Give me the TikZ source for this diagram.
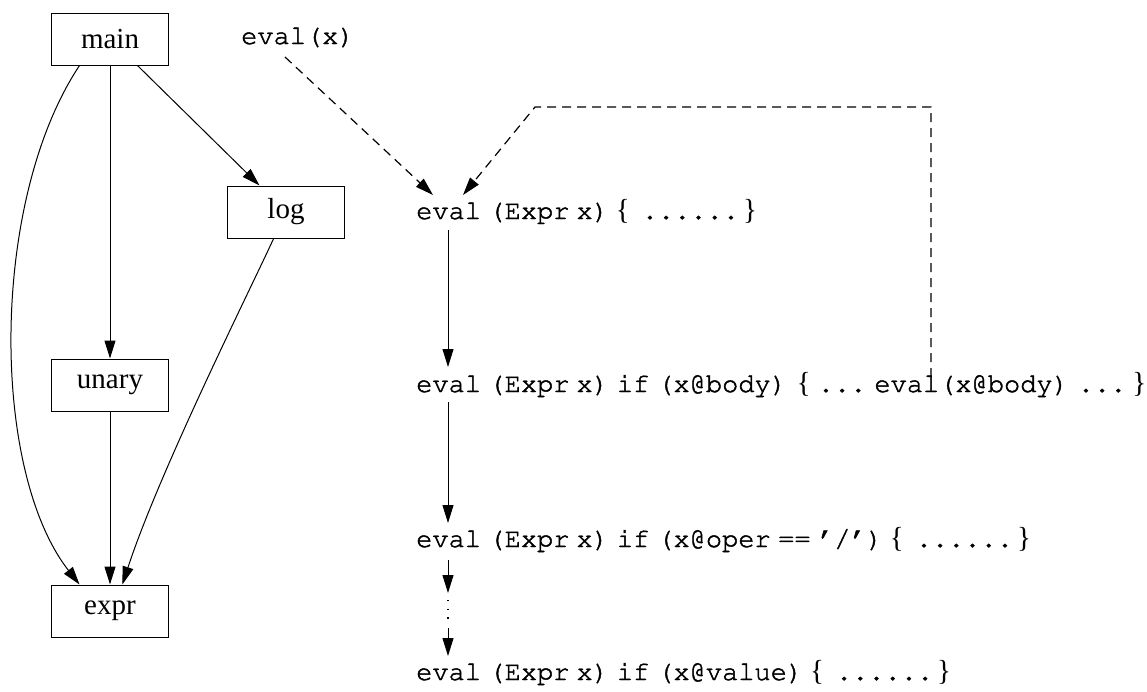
\documentclass[tikz,border=0pt]{standalone}
\usepackage[T1,TU]{fontenc}
\usepackage{fontspec}
\setmainfont{Liberation Serif}
\usetikzlibrary{arrows.meta,calc}
\newcommand\ct[1]{{\special{pdf:code 2 Tr 0.45 w}\fontencoding{T1}\fontfamily{pcr}\fontsize{27}{32}\selectfont #1\special{pdf:code 0 Tr}}}
\newcommand\sk[1]{\hspace*{#1pt}}
\begin{document}
\begin{tikzpicture}[x=1pt,y=-1pt,
  box/.style={draw,line width=1pt,minimum width=117pt,minimum height=52pt,inner sep=0pt,font=\fontsize{29}{34}\selectfont},
  code/.style={anchor=base west,inner sep=0pt,font=\fontsize{29}{34}\selectfont},
  arr/.style={line width=1pt,-{Triangle[length=18pt,width=11pt]}},
  dsh/.style={arr,line width=1.2pt,dash pattern=on 9pt off 6pt}]
\useasboundingbox (0,0) rectangle (1147,691);
% left graph
\node[box] (main)  at (110,39)  {main};
\node[box] (log)   at (286,212) {log};
\node[box] (unary) at (110,385) {unary};
\node[box] (expr)  at (110,611) {expr};
\draw[arr] (main.-44) -- (log.135);
\draw[arr] (main.south) -- (unary.north);
\draw[arr] (unary.south) -- (expr.north);
\draw[arr] (main.221) .. controls (-10,200) and (-10,470) .. (expr.139);
\draw[arr] (log.245) .. controls (250,290) and (160,470) .. (expr.65);
% right side
\node[code] (ex) at (241,44) {\ct{eval(x)}};
\node[code] (r1) at (416,219) {\ct{eval}\sk{7.5}\ct{(Expr}\sk{7}\ct{x)}\sk{7}\{\sk{12}\ct{......}\sk{4}\}};
\node[code] (r2) at (416,392) {\ct{eval}\sk{7.5}\ct{(Expr}\sk{7}\ct{x)}\sk{8}\ct{if}\sk{8}\ct{(x@body)}\sk{10}\{\sk{7}\ct{...}\sk{8}\ct{eval(x@body)}\sk{9}\ct{...}\sk{6}\}};
\node[code] (r3) at (416,547) {\ct{eval}\sk{7.5}\ct{(Expr}\sk{7}\ct{x)}\sk{8}\ct{if}\sk{8}\ct{(x@oper}\sk{7.5}\ct{==}\sk{7.5}\ct{'/')}\sk{7}\{\sk{12}\ct{......}\sk{4}\}};
\node[code] (r4) at (416,680) {\ct{eval}\sk{7.5}\ct{(Expr}\sk{7}\ct{x)}\sk{8}\ct{if}\sk{8}\ct{(x@value)}\sk{7}\{\sk{12}\ct{......}\sk{4}\}};
% connector ends
\coordinate (v1a) at ($(r1.base west)+(32,11)$);
\coordinate (v1b) at ($(r2.base west)+(32,-25)$);
\coordinate (v2a) at ($(r2.base west)+(32,10)$);
\coordinate (v2b) at ($(r3.base west)+(32,-24)$);
\coordinate (v3a) at ($(r3.base west)+(32,13)$);
\coordinate (v3b) at ($(r3.base west)+(32,46)$);
\coordinate (d1)  at ($(r3.base west)+(32,53)$);
\coordinate (d2)  at ($(r3.base west)+(32,77)$);
\coordinate (v4a) at ($(r4.base west)+(32,-52)$);
\coordinate (v4b) at ($(r4.base west)+(32,-24)$);
\draw[arr] (v1a) -- (v1b);
\draw[arr] (v2a) -- (v2b);
\draw[arr] (v3a) -- (v3b);
\draw[line width=1.2pt,dash pattern=on 1.2pt off 7.5pt] (d1) -- (d2);
\draw[arr] (v4a) -- (v4b);
% dashed calls
\coordinate (exs) at ($(ex.base west)+(44,13)$);
\coordinate (t1)  at ($(r1.base west)+(17,-24)$);
\coordinate (t2)  at ($(r1.base west)+(47,-24)$);
\coordinate (ls)  at ($(r2.base west)+(515,-15)$);
\coordinate (c1)  at (931,107);
\coordinate (c2)  at (535,107);
\draw[dsh] (exs) -- (t1);
\draw[dsh] (ls) -- (c1) -- (c2) -- (t2);
\end{tikzpicture}
\end{document}
